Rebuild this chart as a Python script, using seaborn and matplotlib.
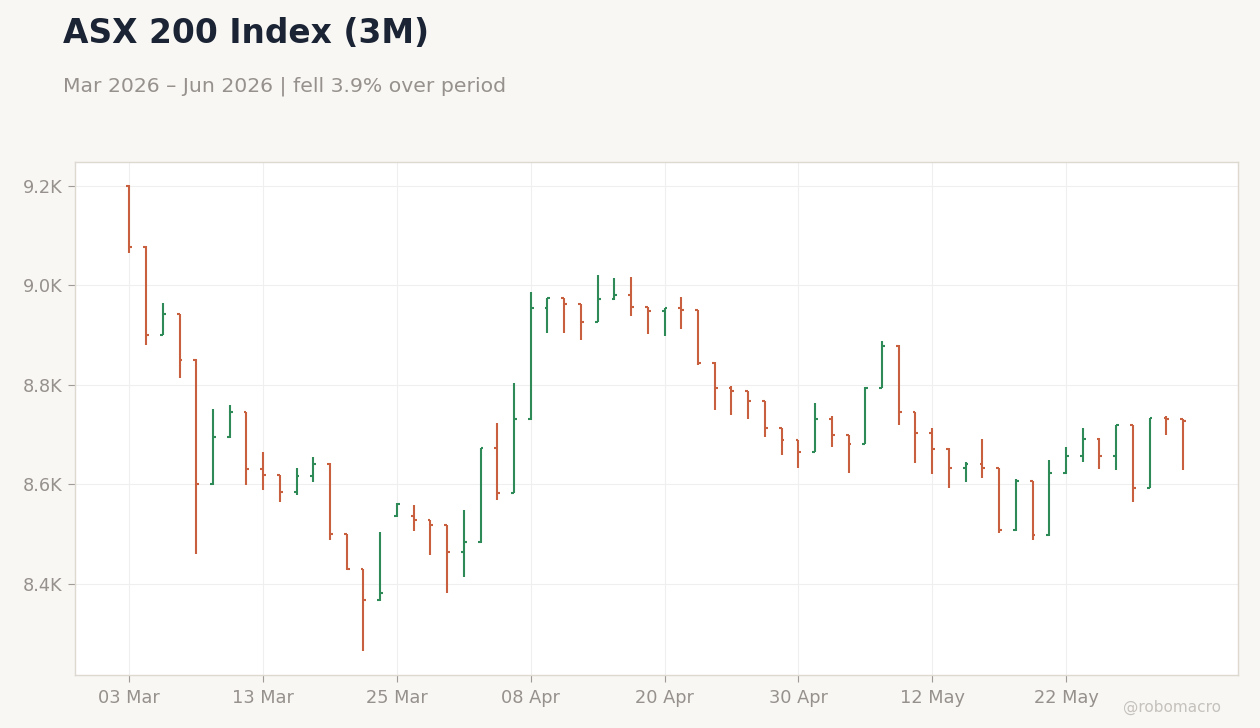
import numpy as np
import pandas as pd
import matplotlib
matplotlib.use("Agg")
import matplotlib.pyplot as plt
import seaborn as sns
from matplotlib.ticker import FuncFormatter


# =============================================================================
# Data (ASX 200 daily OHLC)
# =============================================================================

holidays = ["2026-04-03", "2026-04-06"]

dates = [
    d for d in pd.bdate_range("2026-03-03", "2026-06-02")
    if d.strftime("%Y-%m-%d") not in holidays
]

opens = [
    9200, 9078, 8901, 8942, 8851, 8600, 8695, 8745, 8630, 8618,
    8584, 8616, 8642, 8500, 8430, 8367, 8536, 8536, 8528, 8518,
    8464, 8484, 8673, 8583, 8731, 8954, 8974, 8962, 8927, 8972,
    8980, 8956, 8948, 8954, 8950, 8845, 8794, 8787, 8767, 8713,
    8689, 8666, 8731, 8699, 8682, 8794, 8879, 8745, 8703, 8672,
    8632, 8642, 8632, 8508, 8606, 8498, 8622, 8658, 8692, 8658,
    8719, 8593, 8733, 8731,
]

highs = [
    9201, 9080, 8964, 8943, 8852, 8751, 8759, 8746, 8665, 8619,
    8633, 8656, 8643, 8501, 8431, 8505, 8562, 8559, 8529, 8519,
    8549, 8674, 8723, 8804, 8986, 8975, 8975, 8963, 9021, 9015,
    9017, 8957, 8955, 8976, 8951, 8846, 8798, 8788, 8768, 8714,
    8690, 8763, 8737, 8700, 8795, 8888, 8880, 8746, 8713, 8673,
    8645, 8692, 8633, 8610, 8607, 8649, 8676, 8714, 8693, 8720,
    8720, 8734, 8737, 8732,
]

lows = [
    9065, 8880, 8900, 8813, 8460, 8599, 8694, 8598, 8588, 8564,
    8579, 8604, 8488, 8428, 8265, 8365, 8535, 8506, 8458, 8382,
    8414, 8483, 8569, 8582, 8730, 8905, 8905, 8891, 8926, 8971,
    8938, 8903, 8899, 8913, 8839, 8749, 8739, 8731, 8695, 8660,
    8634, 8665, 8676, 8622, 8681, 8793, 8719, 8644, 8621, 8593,
    8605, 8612, 8502, 8507, 8488, 8497, 8621, 8646, 8630, 8629,
    8564, 8592, 8699, 8629,
]

closes = [
    9078, 8901, 8942, 8851, 8600, 8695, 8745, 8630, 8618, 8584,
    8616, 8642, 8500, 8430, 8367, 8381, 8561, 8528, 8518, 8464,
    8484, 8673, 8583, 8731, 8954, 8974, 8962, 8927, 8972, 8980,
    8956, 8948, 8954, 8950, 8845, 8794, 8787, 8767, 8713, 8689,
    8666, 8731, 8699, 8682, 8794, 8879, 8745, 8703, 8672, 8632,
    8642, 8632, 8508, 8606, 8498, 8622, 8658, 8692, 8658, 8719,
    8593, 8733, 8731, 8727,
]

ohlc = pd.DataFrame({
    "date": dates,
    "open": opens,
    "high": highs,
    "low": lows,
    "close": closes,
})
ohlc["pos"] = np.arange(len(ohlc))
ohlc["up"] = ohlc["close"] >= ohlc["open"]


# =============================================================================
# Style
# =============================================================================

BG = "#F8F7F4"
UP = "#2E8B57"
DOWN = "#C8603F"
TEXT = "#96918C"

sns.set_theme(style="whitegrid")
plt.rcParams["font.family"] = ["DejaVu Sans"]


# =============================================================================
# Plot
# =============================================================================

fig = plt.figure(figsize=(12.6, 7.28), dpi=100, facecolor=BG)
ax = fig.add_axes([0.0595, 0.0728, 0.923, 0.7047])
ax.set_facecolor("white")

colors = np.where(ohlc["up"], UP, DOWN)
tick = 0.17

ax.vlines(ohlc["pos"], ohlc["low"], ohlc["high"], colors=colors, linewidth=1.5)
ax.hlines(ohlc["open"], ohlc["pos"] - tick, ohlc["pos"], colors=colors, linewidth=1.5)
ax.hlines(ohlc["close"], ohlc["pos"], ohlc["pos"] + tick, colors=colors, linewidth=1.5)

tick_idx = list(range(0, len(ohlc), 8))
ax.set_xticks(tick_idx)
ax.set_xticklabels([ohlc["date"][i].strftime("%d %b") for i in tick_idx])
ax.set_yticks([8400, 8600, 8800, 9000, 9200])
ax.yaxis.set_major_formatter(FuncFormatter(lambda v, _: f"{v / 1000:.1f}K"))

ax.set_xlim(-3.25, 66.28)
ax.set_ylim(8217, 9248)

ax.grid(True, color="#EFEFEF", linewidth=0.8)
for s in ax.spines.values():
    s.set_color("#DDD8D0")
    s.set_linewidth(1.0)

ax.tick_params(
    axis="both",
    colors=TEXT,
    labelsize=12.8,
    length=5,
    width=0.8,
    direction="out",
    left=True,
    bottom=True,
)
ax.tick_params(axis="x", pad=5)
ax.tick_params(axis="y", pad=4)
ax.tick_params(axis="both", color="#A09B96")
ax.set_xlabel("")
ax.set_ylabel("")

fig.text(0.05, 0.941, "ASX 200 Index (3M)", fontsize=23.7, fontweight="bold",
         color="#1B2434", ha="left", va="baseline")
fig.text(0.05, 0.875, "Mar 2026 \u2013 Jun 2026 | fell 3.9% over period",
         fontsize=14.65, color=TEXT, ha="left", va="baseline")
fig.text(0.969, 0.022, "@robomacro", fontsize=11, color="#C5C1BC",
         ha="right", va="baseline")

fig.savefig("out.png", dpi=100, facecolor=BG)
